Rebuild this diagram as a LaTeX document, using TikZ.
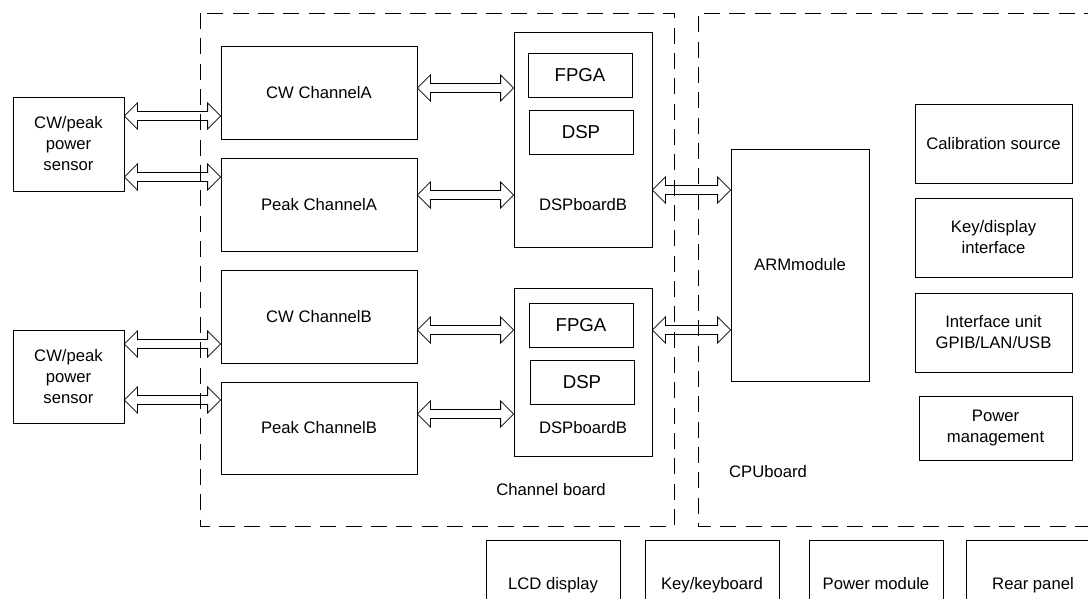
\documentclass[tikz,border=0pt]{standalone}
\usepackage{fontspec}
\setmainfont{Liberation Sans}
\usetikzlibrary{calc}
\tikzset{
  box/.style={draw, line width=0.6pt, inner sep=0pt, align=center,
    font=\fontsize{12.5}{15.75}\selectfont},
  chip/.style={box, font=\fontsize{14}{17}\selectfont},
  rowbox/.style={box, text height=9pt, text depth=3pt},
  lbl/.style={inner sep=0pt, font=\fontsize{12.5}{15.75}\selectfont},
  board/.style={draw, line width=0.6pt, dash pattern=on 12pt off 7pt},
  dblarrow/.style={draw, line width=0.6pt, line join=miter},
}
% box node: style, name, x1, y1, x2, y2, text  (pixel coordinates)
\newcommand\boxat[7]{%
  \node[#1, minimum width={(#5-#3)*0.75pt}, minimum height={(#6-#4)*0.75pt}]
    (#2) at ({(#3+#5)/2},{(#4+#6)/2}) {#7};}
% hollow double arrow between the east side of #1 and the west side of #2, at height #3
\newcommand\dblarr[3]{%
  \path[dblarrow] let \p1=(#1.east), \p2=(#2.west), \p3=(0,#3) in
    (\x1,\y3) -- (\x1+9.75pt,\y3+9.75pt) -- (\x1+9.75pt,\y3+3.4pt)
    -- (\x2-9.75pt,\y3+3.4pt) -- (\x2-9.75pt,\y3+9.75pt) -- (\x2,\y3)
    -- (\x2-9.75pt,\y3-9.75pt) -- (\x2-9.75pt,\y3-3.4pt)
    -- (\x1+9.75pt,\y3-3.4pt) -- (\x1+9.75pt,\y3-9.75pt) -- cycle;}
\begin{document}
\begin{tikzpicture}[x=0.75pt,y=-0.75pt]
\useasboundingbox (0,0) rectangle (1088,599);

% board frames
\draw[board] (200,13) rectangle (674,526);
\draw[board] (1100,13) -- (698,13) -- (698,526) -- (1100,526);

% sensors
\boxat{box}{s1}{13}{97}{124}{191}{CW/peak\\power\\sensor}
\boxat{box}{s2}{13}{330}{124}{423}{CW/peak\\power\\sensor}

% channels
\boxat{box}{cwa}{221}{46}{417}{139}{CW ChannelA}
\boxat{box}{pka}{221}{158}{417}{251}{Peak ChannelA}
\boxat{box}{cwb}{221}{270}{417}{363}{CW ChannelB}
\boxat{box}{pkb}{221}{382}{417}{474}{Peak ChannelB}

% DSP boards
\boxat{box}{dspa}{514}{32}{652}{247}{}
\boxat{chip}{fpgaa}{528}{53}{632}{97}{FPGA}
\boxat{chip}{dspca}{529}{110}{633}{154}{DSP}
\node[lbl] (dspla) at (583,205) {DSPboardB};

\boxat{box}{dspb}{514}{288}{652}{456}{}
\boxat{chip}{fpgab}{529}{303}{633}{347}{FPGA}
\boxat{chip}{dspcb}{530}{360}{634}{404}{DSP}
\node[lbl] (dsplb) at (583,428) {DSPboardB};

\node[lbl] (chlbl) at (551,490) {Channel board};

% CPU board
\boxat{box}{arm}{731}{149}{869}{381}{ARMmodule}
\boxat{box}{cal}{915}{104}{1072}{183}{Calibration source}
\boxat{box}{kdi}{915}{198}{1072}{277}{Key/display\\interface}
\boxat{box}{ifu}{915}{293}{1072}{372}{Interface unit\\GPIB/LAN/USB}
\boxat{box}{pwm}{919}{396}{1072}{460}{Power\\management}
\node[lbl] (cpulbl) at (768,472) {CPUboard};

% bottom row
\boxat{rowbox}{lcd}{486}{540}{620}{630}{LCD display}
\boxat{rowbox}{kbd}{645}{540}{779}{630}{Key/keyboard}
\boxat{rowbox}{pmod}{809}{540}{943}{630}{Power module}
\boxat{rowbox}{rear}{966}{540}{1100}{630}{Rear panel}

% connectors
\dblarr{s1}{cwa}{116}
\dblarr{s1}{pka}{177}
\dblarr{s2}{cwb}{344}
\dblarr{s2}{pkb}{400}
\dblarr{cwa}{dspa}{88}
\dblarr{pka}{dspa}{195}
\dblarr{cwb}{dspb}{330}
\dblarr{pkb}{dspb}{414}
\dblarr{dspa}{arm}{190}
\dblarr{dspb}{arm}{330}
\end{tikzpicture}
\end{document}
